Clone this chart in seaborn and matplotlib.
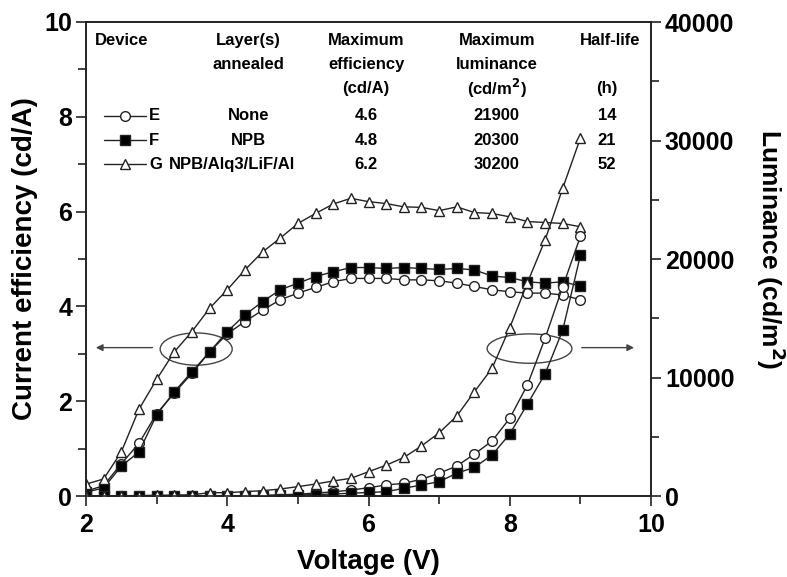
import matplotlib
matplotlib.use("Agg")
import matplotlib.pyplot as plt
from matplotlib.patches import Ellipse
import seaborn as sns
import pandas as pd
import numpy as np

# Voltage steps (V)
voltage = [2.0, 2.25, 2.5, 2.75, 3.0, 3.25, 3.5, 3.75, 4.0, 4.25, 4.5, 4.75, 5.0, 5.25, 5.5,
           5.75, 6.0, 6.25, 6.5, 6.75, 7.0, 7.25, 7.5, 7.75, 8.0, 8.25, 8.5, 8.75, 9.0]

# Current efficiency (cd/A)
eff_E = [0.10, 0.22, 0.68, 1.11, 1.74, 2.17, 2.59, 3.04, 3.42, 3.68, 3.92, 4.14, 4.28, 4.40, 4.52,
         4.59, 4.59, 4.59, 4.56, 4.56, 4.54, 4.49, 4.42, 4.35, 4.31, 4.28, 4.28, 4.24, 4.14]
eff_F = [0.08, 0.17, 0.63, 0.93, 1.71, 2.20, 2.62, 3.04, 3.47, 3.82, 4.10, 4.35, 4.49, 4.63, 4.73,
         4.82, 4.82, 4.80, 4.82, 4.80, 4.78, 4.80, 4.77, 4.64, 4.61, 4.52, 4.49, 4.52, 4.43]
eff_G = [0.25, 0.36, 0.93, 1.83, 2.46, 3.04, 3.47, 3.96, 4.35, 4.77, 5.15, 5.44, 5.75, 5.96, 6.16,
         6.28, 6.21, 6.17, 6.10, 6.09, 6.02, 6.10, 5.98, 5.96, 5.89, 5.79, 5.77, 5.75, 5.68]

# Luminance (cd/m2)
lum_E = [0, 0, 0, 0, 0, 0, 0, 0, 10, 20, 50, 100, 150, 250, 350,
         500, 700, 930, 1070, 1410, 1920, 2530, 3540, 4640, 6560, 9370, 13300, 17660, 21900]
lum_F = [0, 0, 0, 0, 0, 0, 0, 0, 0, 10, 30, 50, 80, 120, 170,
         230, 300, 360, 650, 930, 1210, 1920, 2420, 3460, 5230, 7760, 10300, 14000, 20300]
lum_G = [0, 0, 20, 40, 60, 80, 100, 280, 280, 370, 450, 590, 790, 1010, 1270,
         1490, 2050, 2600, 3250, 4220, 5330, 6750, 8800, 10780, 14200, 18000, 21600, 25970, 30200]

# Inset table
devices = ["E", "F", "G"]
layers = ["None", "NPB", "NPB/Alq3/LiF/Al"]
max_eff = ["4.6", "4.8", "6.2"]
max_lum = ["21900", "20300", "30200"]
half_life = ["14", "21", "52"]

sns.set_style("ticks")
plt.rcParams['font.family'] = ['Liberation Sans', 'DejaVu Sans']
plt.rcParams['font.weight'] = 'bold'
plt.rcParams['text.color'] = 'black'
plt.rcParams['axes.labelcolor'] = 'black'
plt.rcParams['xtick.labelcolor'] = 'black'
plt.rcParams['ytick.labelcolor'] = 'black'

styles = {
    "E": dict(marker="o", markerfacecolor="white"),
    "F": dict(marker="s", markerfacecolor="black"),
    "G": dict(marker="^", markerfacecolor="white"),
}
common = dict(color="#222222", linewidth=1.0, markersize=7, markeredgecolor="#222222",
              markeredgewidth=1.0)

fig = plt.figure(figsize=(7.87, 5.77), dpi=100)
ax = fig.add_axes([86 / 787, 1 - 496 / 577, 565 / 787, 474 / 577])
ax2 = ax.twinx()

eff = {"E": eff_E, "F": eff_F, "G": eff_G}
lum = {"E": lum_E, "F": lum_F, "G": lum_G}
for d in devices:
    sns.lineplot(x=voltage, y=eff[d], ax=ax, legend=False, **styles[d], **common)
    sns.lineplot(x=voltage, y=lum[d], ax=ax2, legend=False, **styles[d], **common)

ax.set_xlim(2, 10)
ax.set_ylim(0, 10)
ax2.set_ylim(0, 40000)
ax.set_xticks([2, 4, 6, 8, 10])
ax.set_xticks([3, 5, 7, 9], minor=True)
ax.set_yticks([0, 2, 4, 6, 8, 10])
ax.set_yticks([1, 3, 5, 7, 9], minor=True)
ax2.set_yticks([0, 10000, 20000, 30000, 40000])
ax2.set_yticks([5000, 15000, 25000, 35000], minor=True)

for a in (ax, ax2):
    for s in a.spines.values():
        s.set_linewidth(1.2)
        s.set_color("#222222")
    a.tick_params(which="both", direction="out", width=1.2, color="#222222", labelcolor="black")
    a.tick_params(which="major", length=7, labelsize=18, pad=3)
    a.tick_params(which="minor", length=6)
ax.tick_params(axis="x", pad=5)

ax.set_xlabel("Voltage (V)", fontsize=20, fontweight="bold", va="center")
ax.xaxis.set_label_coords(0.5, (496 - 562) / 474)
ax.set_ylabel("Current efficiency (cd/A)", fontsize=20, fontweight="bold", va="center")
ax.yaxis.set_label_coords((25 - 86) / 565, 0.5)
ax2.set_ylabel("Luminance (cd/m$^\\mathbf{2}$)", fontsize=19, fontweight="bold",
               rotation=270, va="center", ha="center")
ax2.yaxis.set_label_coords((771 - 86) / 565, 0.52)

# ellipses and arrows marking which axis each curve group uses
ax.add_patch(Ellipse((3.56, 3.10), 1.02, 0.68, fill=False, edgecolor="#444444", linewidth=1.0))
ax.add_patch(Ellipse((8.28, 3.11), 1.2, 0.62, fill=False, edgecolor="#444444", linewidth=1.0))
ax.annotate("", xy=(2.1, 3.13), xytext=(2.98, 3.13),
            arrowprops=dict(arrowstyle="-|>", color="#444444", lw=1.0, mutation_scale=10))
ax.annotate("", xy=(9.8, 3.13), xytext=(8.98, 3.13),
            arrowprops=dict(arrowstyle="-|>", color="#444444", lw=1.0, mutation_scale=10))

# inset table
tk = dict(transform=ax.transAxes, fontsize=12, fontweight="bold", color="black", va="center")
ax.text(0.016, 0.962, "Device", ha="left", **tk)
ax.text(0.288, 0.962, "Layer(s)", ha="center", **tk)
ax.text(0.288, 0.911, "annealed", ha="center", **tk)
ax.text(0.496, 0.962, "Maximum", ha="center", **tk)
ax.text(0.496, 0.911, "efficiency", ha="center", **tk)
ax.text(0.496, 0.859, "(cd/A)", ha="center", **tk)
ax.text(0.727, 0.962, "Maximum", ha="center", **tk)
ax.text(0.727, 0.911, "luminance", ha="center", **tk)
ax.text(0.727, 0.859, "(cd/m$^\\mathbf{2}$)", ha="center", **tk)
ax.text(0.927, 0.962, "Half-life", ha="center", **tk)
ax.text(0.922, 0.859, "(h)", ha="center", **tk)

row_y = [0.802, 0.751, 0.700]
layer_x = [0.288, 0.288, 0.258]
for i, d in enumerate(devices):
    y = row_y[i]
    ax.plot([0.032, 0.069, 0.106], [y, y, y], transform=ax.transAxes, clip_on=False,
            markevery=[1], **styles[d], **common)
    ax.text(0.112, y, d, ha="left", **tk)
    ax.text(layer_x[i], y, layers[i], ha="center", **tk)
    ax.text(0.496, y, max_eff[i], ha="center", **tk)
    ax.text(0.727, y, max_lum[i], ha="center", **tk)
    ax.text(0.922, y, half_life[i], ha="center", **tk)

fig.savefig("out.png", dpi=100)
